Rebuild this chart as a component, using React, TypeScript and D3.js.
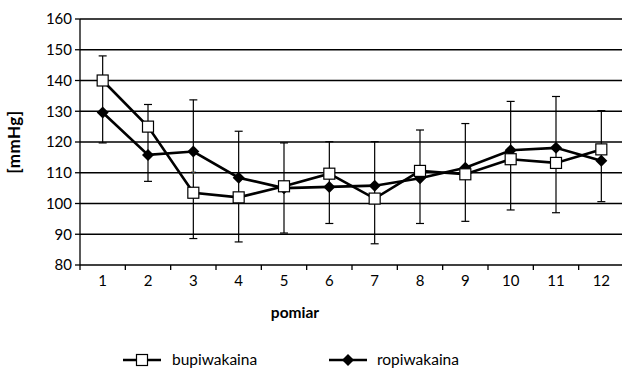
import * as d3 from 'd3'

const pomiary = ['1', '2', '3', '4', '5', '6', '7', '8', '9', '10', '11', '12']
const bupiwakaina = [140, 125, 103.5, 102, 105.6, 109.7, 101.6, 110.6, 109.5, 114.4, 113.2, 117.6]
const ropiwakaina = [129.6, 115.8, 116.9, 108.4, 105, 105.4, 105.8, 108.2, 111.6, 117.3, 118.1, 113.9]
const errTop = [148, 132.2, 133.7, 123.5, 119.7, 120.1, 120.1, 123.9, 126, 133.2, 134.8, 130.2]
const errBottom = [119.7, 107.2, 88.6, 87.5, 90.4, 93.5, 86.9, 93.5, 94.2, 97.9, 97, 100.6]
const yTicks = [80, 90, 100, 110, 120, 130, 140, 150, 160]

const W = 622
const H = 372
const FONT = 'Lato, "Open Sans", sans-serif'

export default function App() {
  const x = d3.scaleBand<string>().domain(pomiary).range([80, 624])
  const y = d3.scaleLinear().domain([80, 160]).range([265, 19])
  const cx = (d: string) => (x(d) ?? 0) + x.bandwidth() / 2

  const line = d3.line<number>().x((_, i) => cx(pomiary[i])).y(v => y(v))
  const diamond = (px: number, py: number, r: number) =>
    `M${px},${py - r}L${px + r},${py}L${px},${py + r}L${px - r},${py}Z`

  return (
    <svg width={W} height={H} style={{ position: 'absolute', left: 0, top: 0, background: '#fff' }}>
      {/* gridlines */}
      {yTicks.slice(1).map(t => (
        <line key={t} x1={80} x2={W} y1={y(t)} y2={y(t)} stroke="#000" strokeWidth={1.3} />
      ))}
      {/* axes */}
      <line x1={80} x2={80} y1={y(160)} y2={y(80)} stroke="#000" strokeWidth={1.3} />
      <line x1={80} x2={W} y1={y(80)} y2={y(80)} stroke="#000" strokeWidth={1.3} />
      {yTicks.map(t => (
        <g key={t}>
          <line x1={75} x2={80} y1={y(t)} y2={y(t)} stroke="#000" strokeWidth={1.3} />
          <text x={72} y={y(t)} dy="0.35em" textAnchor="end" fontSize={15} fontFamily={FONT} fill="#000">{t}</text>
        </g>
      ))}
      {pomiary.map(p => (
        <g key={p}>
          <line x1={x(p) ?? 0} x2={x(p) ?? 0} y1={y(80)} y2={y(80) + 5} stroke="#000" strokeWidth={1.3} />
          <text x={cx(p)} y={286} textAnchor="middle" fontSize={15} fontFamily={FONT} fill="#000">{p}</text>
        </g>
      ))}

      {/* error bars */}
      {pomiary.map((p, i) => (
        <g key={p} stroke="#000" strokeWidth={1.2}>
          <line x1={cx(p)} x2={cx(p)} y1={y(errTop[i])} y2={y(errBottom[i])} />
          <line x1={cx(p) - 4} x2={cx(p) + 4} y1={y(errTop[i])} y2={y(errTop[i])} />
          <line x1={cx(p) - 4} x2={cx(p) + 4} y1={y(errBottom[i])} y2={y(errBottom[i])} />
        </g>
      ))}

      {/* series lines */}
      <path d={line(ropiwakaina) ?? ''} fill="none" stroke="#000" strokeWidth={2.6} />
      <path d={line(bupiwakaina) ?? ''} fill="none" stroke="#000" strokeWidth={2.6} />
      {ropiwakaina.map((v, i) => (
        <path key={i} d={diamond(cx(pomiary[i]), y(v), 6)} fill="#000" />
      ))}
      {bupiwakaina.map((v, i) => (
        <rect key={i} x={cx(pomiary[i]) - 5.5} y={y(v) - 5.5} width={11} height={11} fill="#fff" stroke="#000" strokeWidth={1.2} />
      ))}

      <text x={cx('3')} y={y(110) + 8} textAnchor="middle" fontSize={16} fontFamily={FONT} fill="#555">*</text>

      {/* axis titles */}
      <text transform={`translate(20,${(y(80) + y(160)) / 2}) rotate(-90)`} textAnchor="middle" fontSize={17} letterSpacing={0.5} fontWeight="bold" fontFamily={FONT} fill="#000">[mmHg]</text>
      <text x={295} y={318} textAnchor="middle" fontSize={15.5} fontWeight="bold" fontFamily={FONT} fill="#000">pomiar</text>

      {/* legend */}
      <g>
        <line x1={123} x2={161} y1={360} y2={360} stroke="#000" strokeWidth={2.6} />
        <rect x={136.5} y={354.5} width={11} height={11} fill="#fff" stroke="#000" strokeWidth={1.2} />
        <text x={172} y={360} dy="0.35em" fontSize={15.5} fontFamily={FONT} fill="#000">bupiwakaina</text>
        <line x1={329} x2={367} y1={360} y2={360} stroke="#000" strokeWidth={2.6} />
        <path d={diamond(348, 360, 6)} fill="#000" />
        <text x={377} y={360} dy="0.35em" fontSize={15.5} fontFamily={FONT} fill="#000">ropiwakaina</text>
      </g>
    </svg>
  )
}
